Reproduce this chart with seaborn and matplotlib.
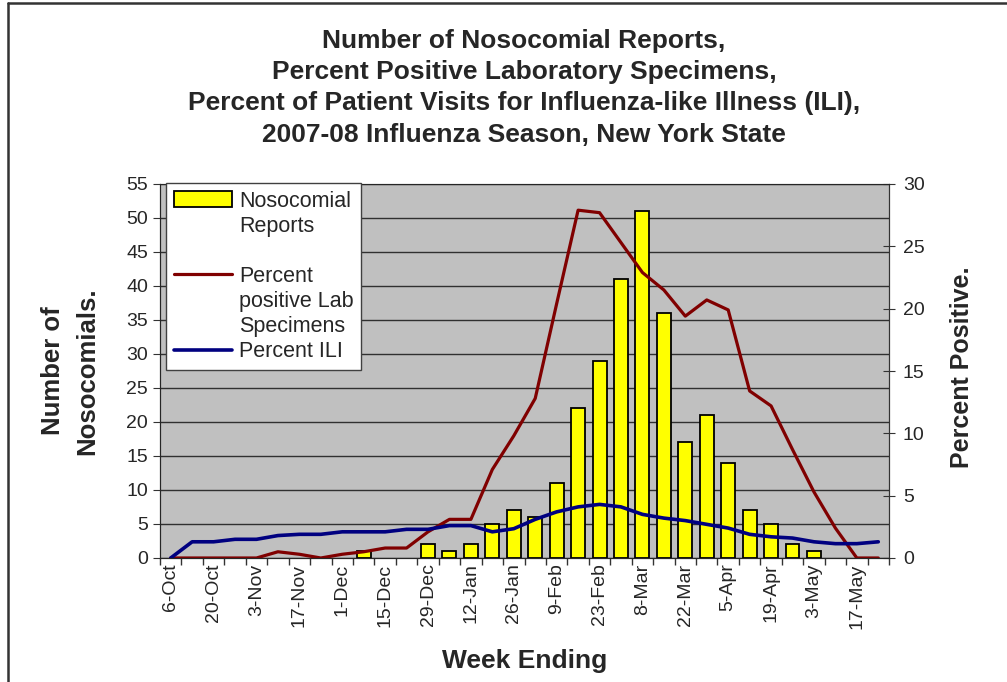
import numpy as np
import matplotlib
matplotlib.use("Agg")
import matplotlib.pyplot as plt
import seaborn as sns
from matplotlib.patches import Patch
from matplotlib.lines import Line2D

# Week ending dates, 2007-08 season
weeks = ["6-Oct", "13-Oct", "20-Oct", "27-Oct", "3-Nov", "10-Nov", "17-Nov", "24-Nov",
         "1-Dec", "8-Dec", "15-Dec", "22-Dec", "29-Dec", "5-Jan", "12-Jan", "19-Jan",
         "26-Jan", "2-Feb", "9-Feb", "16-Feb", "23-Feb", "1-Mar", "8-Mar", "15-Mar",
         "22-Mar", "29-Mar", "5-Apr", "12-Apr", "19-Apr", "26-Apr", "3-May", "10-May",
         "17-May", "24-May"]

# Nosocomial reports (left axis)
nosocomial = [0, 0, 0, 0, 0, 0, 0, 0, 0, 1, 0, 0, 2, 1, 2, 5,
              7, 6, 11, 22, 29, 41, 51, 36, 17, 21, 14, 7, 5, 2, 1, 0,
              0, 0]

# Percent positive lab specimens (right axis)
pct_lab = [0, 0, 0, 0, 0, 0.5, 0.3, 0, 0.3, 0.5, 0.8, 0.8, 2.1, 3.1, 3.1, 7.1,
           9.8, 12.8, 20.4, 27.9, 27.7, 25.3, 22.9, 21.5, 19.4, 20.7, 19.9, 13.4,
           12.2, 8.7, 5.3, 2.4, 0, 0]

# Percent ILI (right axis)
pct_ili = [0, 1.3, 1.3, 1.5, 1.5, 1.8, 1.9, 1.9, 2.1, 2.1, 2.1, 2.3, 2.3, 2.6, 2.6, 2.1,
           2.35, 3.1, 3.7, 4.1, 4.3, 4.1, 3.5, 3.2, 3.0, 2.7, 2.4, 1.9, 1.7, 1.6,
           1.3, 1.15, 1.15, 1.3]

sns.set_style("ticks")
plt.rcParams['font.family'] = ['Liberation Sans', 'DejaVu Sans']

W, H = 1007, 682
fig = plt.figure(figsize=(W / 100, H / 100), dpi=100)
ax = fig.add_axes([160 / W, 1 - 558 / H, 729 / W, 374 / H])
ax.set_facecolor("#C0C0C0")

idx = np.arange(len(weeks))
sns.barplot(x=idx, y=nosocomial, ax=ax, color="#FFFF00", saturation=1,
            edgecolor="black", linewidth=1.3, width=0.65, native_scale=True, zorder=2)
# empty weeks get no bar outline
for bar in ax.patches:
    if bar.get_height() == 0:
        bar.set_visible(False)

ax.set_xlim(-0.5, len(weeks) - 0.5)
ax.set_ylim(0, 55)
ax.set_yticks(np.arange(0, 56, 5))
ax.yaxis.grid(True, color="#303030", linewidth=1, zorder=0)
ax.set_axisbelow(True)

# labels every other week, tick marks between categories
ax.set_xticks(idx[::2])
ax.set_xticklabels(weeks[::2], rotation=90, fontsize=14)
ax.set_xticks(np.arange(-0.5, len(weeks)), minor=True)
ax.tick_params(axis="x", which="major", length=0, pad=4)
ax.tick_params(axis="x", which="minor", length=5, width=1, color="#333333")
ax.tick_params(axis="y", labelsize=14, length=5, color="#333333")

for s in ["left", "bottom"]:
    ax.spines[s].set_color("#333333")
ax.spines["top"].set_color("#808080")

ax.set_xlabel("Week Ending", fontsize=19, fontweight="bold")
ax.xaxis.set_label_coords(0.5, -(661 - 558) / 374)
ax.xaxis.label.set_va("center")
ax.set_ylabel("Number of\nNosocomials.", fontsize=18.5, fontweight="bold", linespacing=1.5)
ax.yaxis.set_label_coords(-(160 - 70) / 729, 0.5)
ax.yaxis.label.set_va("center")

ax2 = ax.twinx()
sns.lineplot(x=idx, y=pct_lab, ax=ax2, color="#800000", linewidth=2.3, legend=False)
sns.lineplot(x=idx, y=pct_ili, ax=ax2, color="#000080", linewidth=2.6, legend=False)
ax2.set_ylim(0, 30)
ax2.set_yticks(np.arange(0, 31, 5))
ax2.tick_params(axis="y", labelsize=14, length=8, direction="inout", color="#333333", pad=6)
ax2.spines["right"].set_color("#333333")
ax2.set_ylabel("Percent Positive.", fontsize=18, fontweight="bold")
ax2.yaxis.set_label_coords((962 - 160) / 729, 0.51)
ax2.yaxis.label.set_va("center")
ax2.set_xlim(-0.5, len(weeks) - 0.5)

# legend rows laid out one text line each, handles on the first line of each entry
blank = Line2D([], [], alpha=0)
handles = [
    Patch(facecolor="#FFFF00", edgecolor="black", linewidth=1.3), blank, blank,
    Line2D([], [], color="#800000", linewidth=2.3), blank, blank,
    Line2D([], [], color="#000080", linewidth=2.6),
]
labels = ["Nosocomial", "Reports", "", "Percent", "positive Lab", "Specimens", "Percent ILI"]
leg = ax2.legend(handles, labels, loc="upper left",
                 bbox_to_anchor=(166 / W, 1 - 183 / H), bbox_transform=fig.transFigure,
                 fontsize=15.5, frameon=True, fancybox=False, framealpha=1,
                 edgecolor="#404040", handlelength=2.7, handleheight=0.7,
                 labelspacing=0.19, borderpad=0.35, handletextpad=0.35, borderaxespad=0)
leg.get_frame().set_linewidth(1)

fig.text(524 / W, 1 - 29 / H,
         "Number of Nosocomial Reports,\n"
         "Percent Positive Laboratory Specimens,\n"
         "Percent of Patient Visits for Influenza-like Illness (ILI),\n"
         "2007-08 Influenza Season, New York State",
         ha="center", va="top", fontsize=19, fontweight="bold", linespacing=1.38)

# outer chart border (top and left edges visible)
fig.add_artist(Line2D([8 / W, 1], [1 - 3 / H, 1 - 3 / H], transform=fig.transFigure,
                      color="#333333", linewidth=1.8))
fig.add_artist(Line2D([8 / W, 8 / W], [0, 1 - 3 / H], transform=fig.transFigure,
                      color="#333333", linewidth=1.8))

fig.savefig("out.png", dpi=100)
